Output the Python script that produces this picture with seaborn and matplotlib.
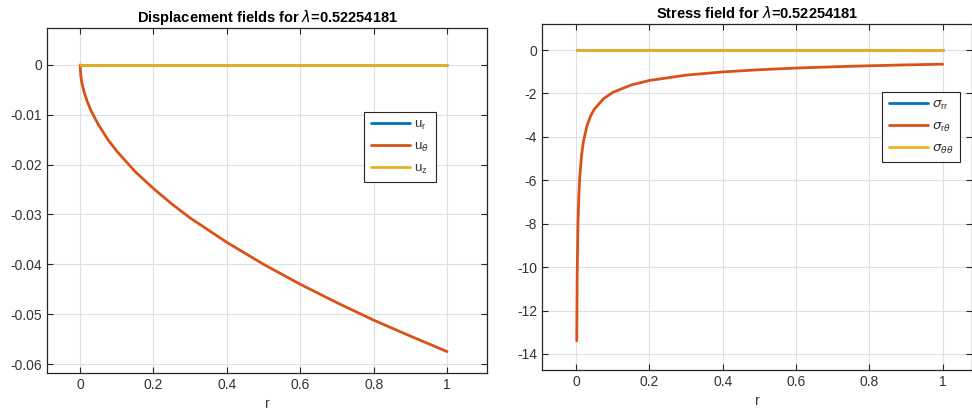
import numpy as np
import pandas as pd
import matplotlib
matplotlib.use('Agg')
import matplotlib.pyplot as plt
import seaborn as sns

# values
r_disp = [0, 0.002, 0.005, 0.01, 0.02, 0.03, 0.05, 0.075, 0.1, 0.15, 0.2, 0.25,
          0.3, 0.4, 0.5, 0.6, 0.7, 0.8, 0.9, 1.0]
u_r = [0.0] * len(r_disp)
u_theta = [0, -0.00224, -0.00361, -0.00519, -0.00745, -0.0092, -0.0120, -0.0149,
           -0.0173, -0.0214, -0.0248, -0.0279, -0.0307, -0.0356, -0.0400, -0.0440,
           -0.0477, -0.0512, -0.0544, -0.0575]
u_z = [0.0] * len(r_disp)

r_stress = [0.0018, 0.003, 0.005, 0.0075, 0.01, 0.015, 0.02, 0.03, 0.04, 0.05,
            0.075, 0.1, 0.15, 0.2, 0.3, 0.4, 0.5, 0.6, 0.7, 0.8, 0.9, 1.0]
sig_rr = [0.0] * len(r_stress)
sig_rt = [-13.4, -10.4, -8.16, -6.72, -5.86, -4.83, -4.21, -3.47, -3.02, -2.72,
          -2.24, -1.95, -1.61, -1.40, -1.155, -1.007, -0.905, -0.829, -0.771,
          -0.723, -0.683, -0.65]
sig_tt = [0.0] * len(r_stress)

disp_labels = [r'u$_\mathregular{r}$', r'u$_\theta$', r'u$_\mathregular{z}$']
stress_labels = [r'$\sigma_\mathregular{rr}$', r'$\sigma_{\mathregular{r}\theta}$',
                 r'$\sigma_{\theta\theta}$']
lam = '0.52254181'

colors = ['#0072BD', '#D95319', '#EDB120']

sns.set_style('white')
plt.rcParams['font.family'] = ['Liberation Sans', 'DejaVu Sans']
plt.rcParams['mathtext.fontset'] = 'dejavusans'

disp = pd.DataFrame({
    'r': r_disp * 3,
    'val': u_r + u_theta + u_z,
    'field': [disp_labels[0]] * len(r_disp) + [disp_labels[1]] * len(r_disp)
             + [disp_labels[2]] * len(r_disp),
})
stress = pd.DataFrame({
    'r': r_stress * 3,
    'val': sig_rr + sig_rt + sig_tt,
    'field': [stress_labels[0]] * len(r_stress) + [stress_labels[1]] * len(r_stress)
             + [stress_labels[2]] * len(r_stress),
})

fig = plt.figure(figsize=(9.72, 4.15), dpi=100)
ax1 = fig.add_axes([0.0484, 0.1012, 0.4527, 0.8313])
ax2 = fig.add_axes([0.5576, 0.1084, 0.4424, 0.8337])

tc = '#333333'


def style(ax, title):
    ax.grid(True, color='#e0e0e0', linewidth=0.8)
    ax.set_axisbelow(True)
    for s in ax.spines.values():
        s.set_color('#262626')
        s.set_linewidth(0.9)
        s.set_visible(True)
    ax.tick_params(direction='in', length=4, width=0.8, color='#262626',
                   labelsize=10, labelcolor=tc, top=True, right=True,
                   bottom=True, left=True)
    ax.set_title(title, fontsize=10.5, fontweight='bold', color='#000000', pad=4)
    ax.set_xlabel('r', fontsize=10, color=tc, labelpad=4)
    ax.set_ylabel('')
    ax.set_xticks([0, 0.2, 0.4, 0.6, 0.8, 1])
    ax.set_xticklabels(['0', '0.2', '0.4', '0.6', '0.8', '1'])


sns.lineplot(data=disp, x='r', y='val', hue='field', palette=colors,
             linewidth=2, ax=ax1, legend=True, sort=False)
ax1.set_xlim(-0.09, 1.109)
ax1.set_ylim(-0.0618, 0.0074)
ax1.set_yticks([0, -0.01, -0.02, -0.03, -0.04, -0.05, -0.06])
ax1.set_yticklabels(['0', '-0.01', '-0.02', '-0.03', '-0.04', '-0.05', '-0.06'])
style(ax1, r'Displacement fields for $\lambda$=' + lam)

sns.lineplot(data=stress, x='r', y='val', hue='field', palette=colors,
             linewidth=2, ax=ax2, legend=True, sort=False)
ax2.set_xlim(-0.093, 1.08)
ax2.set_ylim(-14.74, 1.2)
ax2.set_yticks([0, -2, -4, -6, -8, -10, -12, -14])
ax2.set_yticklabels(['0', '-2', '-4', '-6', '-8', '-10', '-12', '-14'])
style(ax2, r'Stress field for $\lambda$=' + lam)

for ax, anchor in [(ax1, (364 / 972, 1 - 112 / 415)), (ax2, (882 / 972, 1 - 92 / 415))]:
    leg = ax.legend(loc='upper left', bbox_to_anchor=anchor,
                    bbox_transform=fig.transFigure, fontsize=9.5, frameon=True,
                    fancybox=False, edgecolor='#262626', framealpha=1,
                    handlelength=3.0, handletextpad=0.3, labelspacing=0.65,
                    borderpad=0.5, borderaxespad=0)
    leg.get_frame().set_linewidth(0.8)
    for t in leg.get_texts():
        t.set_color(tc)
    for line in leg.get_lines():
        line.set_linewidth(2)

fig.savefig('out.png', dpi=100)
